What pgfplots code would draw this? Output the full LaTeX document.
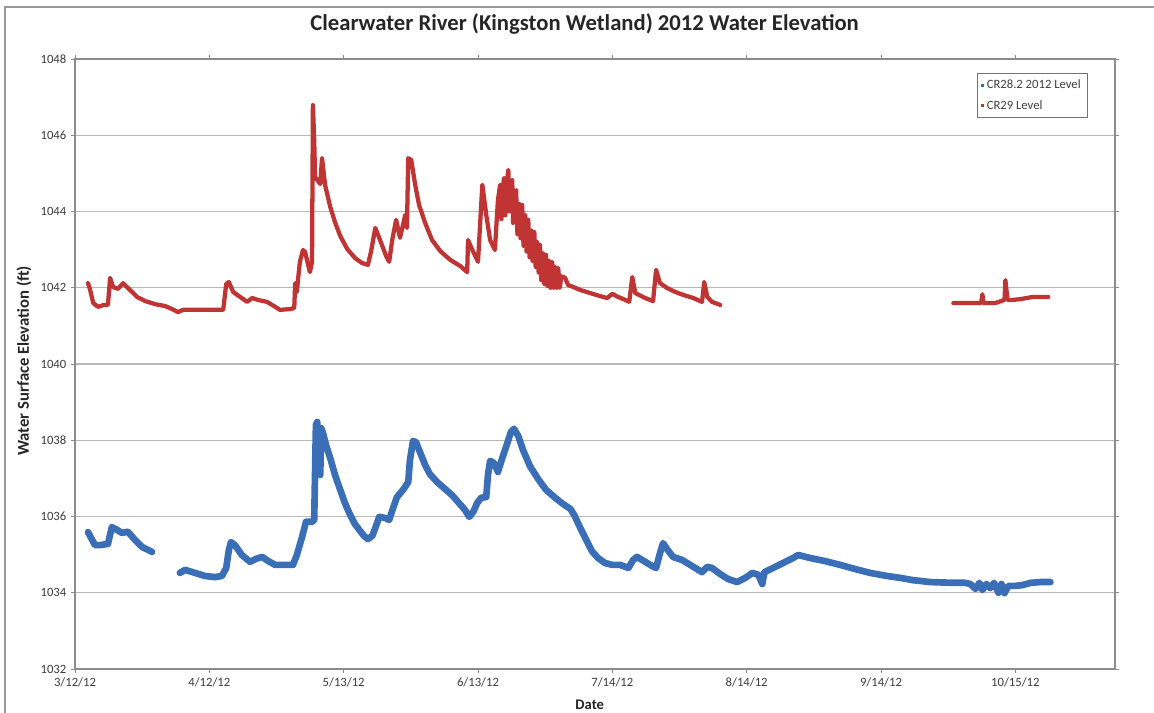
\documentclass[border=0pt]{standalone}
\usepackage{pgfplots}
\pgfplotsset{compat=1.18}
\usepackage{fontspec}
\setmainfont{Carlito}
\definecolor{cblue}{RGB}{58,110,182}
\definecolor{cred}{RGB}{192,52,52}
\definecolor{tickc}{RGB}{60,60,60}
\pgfplotstableread{
day val
3.0 1035.59
4.6 1035.25
5.8 1035.25
7.6 1035.28
8.5 1035.72
9.7 1035.65
10.8 1035.57
12.2 1035.60
13.9 1035.38
15.5 1035.20
17.8 1035.07
20.0 nan
24.2 1034.52
25.4 1034.60
27.7 1034.52
30.0 1034.44
32.3 1034.41
33.9 1034.44
34.9 1034.65
35.5 1035.12
36.0 1035.33
36.9 1035.25
38.5 1034.99
40.4 1034.81
41.8 1034.89
43.2 1034.94
44.6 1034.83
46.2 1034.73
48.5 1034.73
50.3 1034.73
51.2 1034.99
52.4 1035.46
53.3 1035.86
54.7 1035.86
55.2 1035.91
55.6 1038.40
55.9 1038.48
56.1 1037.22
56.3 1038.27
56.6 1037.09
56.8 1038.32
57.2 1038.20
57.9 1037.88
58.9 1037.53
60.0 1037.09
61.2 1036.70
62.3 1036.35
63.5 1036.04
64.6 1035.80
65.8 1035.62
66.7 1035.49
67.6 1035.41
68.6 1035.49
69.3 1035.70
70.2 1035.99
71.6 1035.96
72.5 1035.91
73.4 1036.22
74.3 1036.51
75.7 1036.70
76.9 1036.90
77.3 1037.48
78.0 1037.98
78.7 1037.95
79.6 1037.69
80.8 1037.35
81.9 1037.11
83.6 1036.90
85.4 1036.72
87.0 1036.56
88.4 1036.38
90.0 1036.17
91.0 1035.99
91.9 1036.12
92.8 1036.35
93.7 1036.49
94.9 1036.51
95.3 1037.09
95.8 1037.46
96.7 1037.40
97.6 1037.17
98.6 1037.53
99.7 1037.90
100.6 1038.22
101.3 1038.30
102.3 1038.11
103.4 1037.74
105.0 1037.32
106.9 1036.98
108.7 1036.70
110.8 1036.49
112.6 1036.33
114.3 1036.20
115.2 1036.04
116.6 1035.70
118.0 1035.38
119.3 1035.09
120.7 1034.91
122.3 1034.78
124.0 1034.73
125.8 1034.73
127.7 1034.65
128.8 1034.86
129.7 1034.94
131.6 1034.81
133.2 1034.70
134.1 1034.65
135.0 1035.04
135.7 1035.30
136.6 1035.15
138.0 1034.94
140.1 1034.86
142.4 1034.70
144.7 1034.54
145.9 1034.68
147.0 1034.65
148.9 1034.49
150.7 1034.36
152.8 1034.28
154.7 1034.39
156.3 1034.52
157.7 1034.47
158.6 1034.23
159.1 1034.54
161.1 1034.65
163.4 1034.78
165.7 1034.91
166.9 1034.99
169.7 1034.91
173.1 1034.83
176.6 1034.73
180.1 1034.62
183.5 1034.52
187.4 1034.44
190.4 1034.39
193.4 1034.33
197.4 1034.28
202.7 1034.26
205.4 1034.26
206.6 1034.23
207.8 1034.10
208.7 1034.26
209.4 1034.07
210.3 1034.23
211.2 1034.12
212.1 1034.26
213.1 1034.00
213.8 1034.23
214.5 1033.99
215.4 1034.18
217.0 1034.18
218.6 1034.20
220.5 1034.26
222.8 1034.28
225.1 1034.28
}\bluedata
\pgfplotstableread{
day val
3.0 1042.12
3.5 1041.94
4.2 1041.60
5.3 1041.50
6.7 1041.55
7.6 1041.55
8.1 1042.26
8.8 1042.02
9.9 1041.97
11.1 1042.12
12.7 1041.94
14.3 1041.76
16.2 1041.65
18.5 1041.57
20.8 1041.52
22.4 1041.44
23.8 1041.36
24.9 1041.42
28.9 1041.42
32.3 1041.42
34.2 1041.42
34.9 1042.10
35.5 1042.15
36.5 1041.89
38.1 1041.76
39.7 1041.63
40.9 1041.73
42.2 1041.68
44.3 1041.63
46.2 1041.50
47.3 1041.42
49.6 1041.44
50.6 1041.47
50.8 1042.12
51.2 1041.89
51.5 1042.25
51.9 1042.68
52.6 1042.99
53.1 1042.94
53.8 1042.60
54.2 1042.41
54.7 1042.68
54.9 1046.79
55.2 1045.88
55.4 1044.90
56.1 1044.80
56.6 1044.72
57.0 1045.40
57.7 1044.70
58.9 1044.12
60.0 1043.72
61.2 1043.36
62.8 1043.02
64.6 1042.78
66.2 1042.65
67.6 1042.60
68.3 1042.94
69.3 1043.57
70.4 1043.25
71.8 1042.83
72.5 1042.68
73.2 1043.25
74.1 1043.78
75.0 1043.31
75.7 1043.65
76.2 1043.91
76.6 1043.57
76.9 1045.40
77.6 1045.35
78.5 1044.70
79.4 1044.17
80.8 1043.70
82.4 1043.25
84.3 1042.96
86.6 1042.73
88.9 1042.57
90.5 1042.41
90.7 1043.25
91.7 1042.99
93.0 1042.68
94.0 1044.70
94.9 1043.91
95.8 1043.25
96.9 1042.99
97.6 1044.30
98.1 1044.70
98.4 1043.80
98.6 1044.40
99.0 1044.88
99.3 1043.90
99.5 1044.60
100.0 1045.09
100.2 1044.00
100.4 1044.70
100.9 1044.83
101.1 1043.70
101.3 1044.40
101.8 1044.56
102.1 1043.40
102.5 1044.20
102.8 1043.30
103.2 1044.17
103.5 1043.10
103.9 1043.90
104.2 1042.95
104.6 1043.78
104.9 1042.80
105.3 1043.50
105.6 1042.70
106.0 1043.46
106.3 1042.55
106.6 1043.20
107.0 1042.40
107.3 1043.12
107.6 1042.20
108.0 1042.90
108.3 1042.10
108.7 1042.86
109.0 1042.05
109.4 1042.70
109.7 1042.00
110.1 1042.68
110.5 1042.00
110.8 1042.55
111.2 1041.99
111.5 1042.52
111.9 1042.00
112.2 1042.30
113.1 1042.26
113.8 1042.07
115.0 1042.02
116.6 1041.94
118.9 1041.86
121.2 1041.78
122.8 1041.73
124.0 1041.84
125.3 1041.76
127.0 1041.68
127.9 1041.63
128.6 1042.28
129.3 1041.86
131.6 1041.73
133.4 1041.65
134.1 1042.47
135.0 1042.12
136.7 1041.99
138.5 1041.89
140.4 1041.81
142.7 1041.73
144.7 1041.63
145.2 1042.15
145.9 1041.76
147.0 1041.63
148.9 1041.55
150.0 nan
202.7 1041.60
206.6 1041.60
209.1 1041.60
209.4 1041.83
209.6 1041.60
212.4 1041.60
214.5 1041.68
214.7 1042.20
215.2 1041.68
216.3 1041.68
218.1 1041.70
221.1 1041.76
224.6 1041.76
}\reddata
\begin{document}
\begin{tikzpicture}
\path[use as bounding box] (0pt,0pt) rectangle (865.5pt,534.75pt);
\draw[black!40, line width=0.8pt] (3.75pt,-10pt) -- (3.75pt,529.5pt) -- (880pt,529.5pt);
\begin{axis}[
  at={(56.25pt,33pt)}, anchor=south west,
  width=780pt, height=457.5pt, scale only axis,
  xmin=0, xmax=240, ymin=1032, ymax=1048,
  xtick={0,31,62,93,124,155,186,217},
  xticklabels={3/12/12,4/12/12,5/13/12,6/13/12,7/14/12,8/14/12,9/14/12,10/15/12},
  ytick={1032,1034,...,1048},
  yticklabel style={/pgf/number format/.cd,set thousands separator={},assume math mode=true},
  ticklabel style={font=\fontsize{9.5}{10}\selectfont, text=tickc},
  tick align=outside, major tick length=3pt,
  tick style={black!45, line width=0.6pt},
  axis line style={black!45, line width=0.8pt},
  ymajorgrids, grid style={black!28, line width=0.8pt},
  unbounded coords=jump,
  title={Clearwater River (Kingston Wetland) 2012 Water Elevation},
  title style={at={(axis description cs:0.49,1.044)}, anchor=center, font=\bfseries\fontsize{17}{19}\selectfont, text=black!85},
  xlabel={Date},
  xlabel style={at={(axis description cs:0.495,-0.059)}, anchor=center, font=\bfseries\fontsize{11}{12}\selectfont, text=black!85},
  ylabel={Water Surface Elevation (ft)},
  ylabel style={at={(axis description cs:-0.049,0.505)}, anchor=center, font=\bfseries\fontsize{12.5}{14}\selectfont, text=black!85},
  legend style={at={(axis description cs:0.867,0.977)}, anchor=north west, draw=black!55, line width=0.6pt,
    font=\fontsize{9.5}{11}\selectfont, text=black!75, row sep=3pt, inner xsep=3pt, inner ysep=3pt},
  legend cell align=left,
]
\addplot[cblue, line width=5pt, line join=round, line cap=round,
  legend image code/.code={\path[fill=cblue, draw=none] (0.28cm,-0.04cm) rectangle (0.36cm,0.04cm);}] table[x=day,y=val] {\bluedata};
\addlegendentry{CR28.2 2012 Level}
\addplot[cred, line width=3.2pt, line join=round, line cap=round,
  legend image code/.code={\path[fill=cred, draw=none] (0.28cm,-0.04cm) rectangle (0.36cm,0.04cm);}] table[x=day,y=val] {\reddata};
\addlegendentry{CR29 Level}
\end{axis}
\end{tikzpicture}
\end{document}
